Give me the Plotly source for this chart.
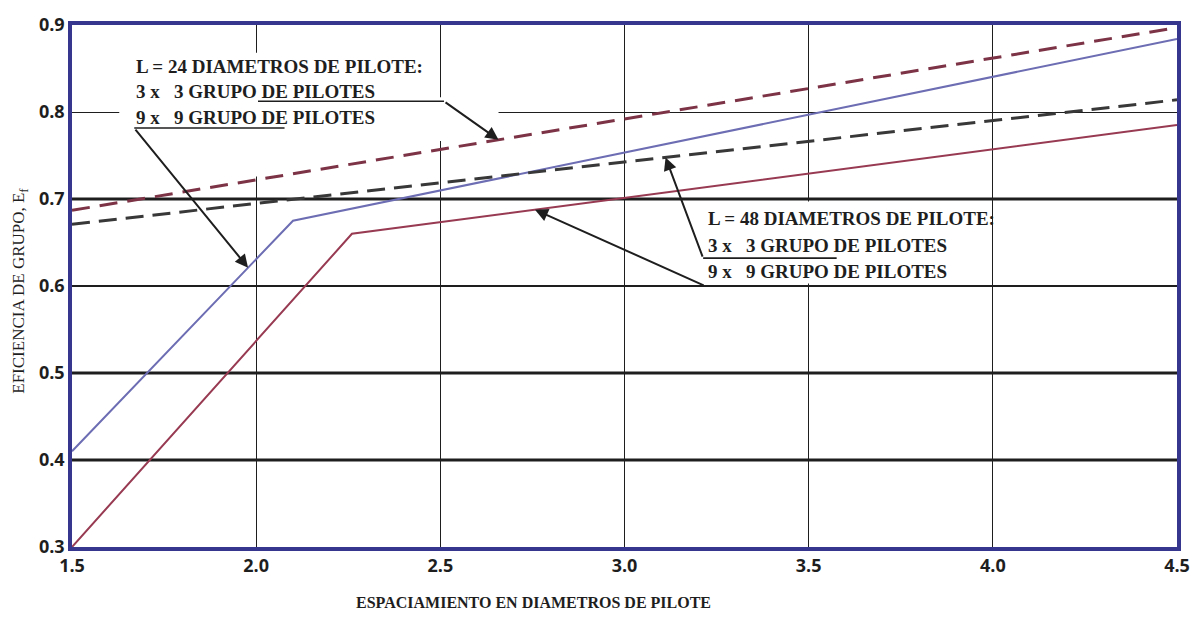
import numpy as np
import plotly.graph_objects as go

# Pile group efficiency vs. pile spacing (in pile diameters)
spacing_l24_3x3 = [1.5, 4.5]
eff_l24_3x3 = [0.687, 0.897]

spacing_l24_9x9 = [1.5, 2.1, 4.5]
eff_l24_9x9 = [0.41, 0.675, 0.884]

spacing_l48_3x3 = [1.5, 4.5]
eff_l48_3x3 = [0.671, 0.814]

spacing_l48_9x9 = [1.5, 2.26, 4.5]
eff_l48_9x9 = [0.30, 0.66, 0.785]

x_ticks = [1.5, 2.0, 2.5, 3.0, 3.5, 4.0, 4.5]
y_ticks = [0.3, 0.4, 0.5, 0.6, 0.7, 0.8, 0.9]

NAVY = "#36368f"
INK = "#1e1e1e"
SERIF = "Liberation Serif"

fig = go.Figure()

fig.add_trace(go.Scatter(x=spacing_l24_3x3, y=eff_l24_3x3, mode="lines",
                         line=dict(color="#7d3346", width=3, dash="18px,10px"),
                         name="L=24, 3x3"))
fig.add_trace(go.Scatter(x=spacing_l24_9x9, y=eff_l24_9x9, mode="lines",
                         line=dict(color="#6c6db3", width=2),
                         name="L=24, 9x9"))
fig.add_trace(go.Scatter(x=spacing_l48_3x3, y=eff_l48_3x3, mode="lines",
                         line=dict(color="#383838", width=3, dash="18px,9px"),
                         name="L=48, 3x3"))
fig.add_trace(go.Scatter(x=spacing_l48_9x9, y=eff_l48_9x9, mode="lines",
                         line=dict(color="#973a52", width=2),
                         name="L=48, 9x9"))

shapes = []
# heavier horizontal rules
for yv, w in [(0.4, 3), (0.5, 3), (0.6, 2), (0.7, 3)]:
    shapes.append(dict(type="line", xref="x", yref="y", x0=1.5, x1=4.5, y0=yv, y1=yv,
                       line=dict(color=INK, width=w), layer="between"))

# white panels behind the label blocks
for x0, x1, y0, y1 in [(1.629, 2.658, 0.7668, 0.8169),
                       (1.629, 2.488, 0.7258, 0.8681),
                       (3.20, 3.993, 0.603, 0.697)]:
    shapes.append(dict(type="rect", xref="x", yref="y", x0=x0, x1=x1, y0=y0, y1=y1,
                       fillcolor="white", line=dict(width=0), layer="between"))

# leader underlines
for x0, x1, yv in [(2.005, 2.51, 0.8123), (1.669, 2.077, 0.7816), (3.2135, 3.576, 0.632)]:
    shapes.append(dict(type="line", xref="x", yref="y", x0=x0, x1=x1, y0=yv, y1=yv,
                       line=dict(color=INK, width=1.6), layer="above"))

annotations = []


def label(x, y, text):
    annotations.append(dict(x=x, y=y, xref="x", yref="y", text=f"<b>{text}</b>",
                            showarrow=False, xanchor="left", yanchor="middle",
                            font=dict(family=SERIF, size=19, color=INK)))


def pointer(tail_x, tail_y, tip_x, xs, ys):
    tip_y = float(np.interp(tip_x, xs, ys))
    annotations.append(dict(x=tip_x, y=tip_y, ax=tail_x, ay=tail_y,
                            xref="x", yref="y", axref="x", ayref="y",
                            text="", showarrow=True, arrowhead=2, arrowsize=1.3,
                            arrowwidth=2, arrowcolor=INK, standoff=0, startstandoff=0))


label(1.669, 0.8522, "L = 24 DIAMETROS DE PILOTE:")
label(1.669, 0.8237, "3 x &nbsp; 3 GRUPO DE PILOTES")
label(1.669, 0.7941, "9 x &nbsp; 9 GRUPO DE PILOTES")
label(3.2216, 0.678, "L = 48 DIAMETROS DE PILOTE:")
label(3.2216, 0.646, "3 x &nbsp; 3 GRUPO DE PILOTES")
label(3.2216, 0.6165, "9 x &nbsp; 9 GRUPO DE PILOTES")

pointer(2.51, 0.8123, 2.658, spacing_l24_3x3, eff_l24_3x3)
pointer(1.669, 0.7816, 1.978, spacing_l24_9x9, eff_l24_9x9)
pointer(3.2135, 0.632, 3.1115, spacing_l48_3x3, eff_l48_3x3)
pointer(3.219, 0.60, 2.757, spacing_l48_9x9, eff_l48_9x9)

# axis titles
annotations.append(dict(x=0.418, y=-0.106, xref="paper", yref="paper",
                        text="<b>ESPACIAMIENTO EN DIAMETROS DE PILOTE</b>",
                        showarrow=False, xanchor="center", yanchor="middle",
                        font=dict(family=SERIF, size=16, color=INK)))
annotations.append(dict(x=-0.0466, y=0.49, xref="paper", yref="paper",
                        text="EFICIENCIA DE GRUPO, E<sub>f</sub>", textangle=-90,
                        showarrow=False, xanchor="center", yanchor="middle",
                        font=dict(family=SERIF, size=17, color=INK)))

tick_font = dict(family="Open Sans", size=18, color=INK)

fig.update_layout(
    width=1202, height=619,
    margin=dict(l=72, r=13, t=20, b=72),
    paper_bgcolor="white", plot_bgcolor="white",
    showlegend=False,
    shapes=shapes,
    annotations=annotations,
    xaxis=dict(range=[1.5, 4.5], tickvals=x_ticks,
               ticktext=[f"<b>{v:.1f}</b>" for v in x_ticks],
               showgrid=True, gridcolor=INK, gridwidth=1.3, zeroline=False,
               showline=True, linecolor=NAVY, linewidth=3.5, mirror=True,
               ticks="", tickfont=tick_font),
    yaxis=dict(range=[0.3, 0.9], tickvals=y_ticks,
               ticktext=[f"<b>{v:.1f}</b>" for v in y_ticks],
               showgrid=True, gridcolor=INK, gridwidth=1.4, zeroline=False,
               showline=True, linecolor=NAVY, linewidth=3.5, mirror=True,
               ticks="", tickfont=tick_font),
)

fig.write_html("out.html")
